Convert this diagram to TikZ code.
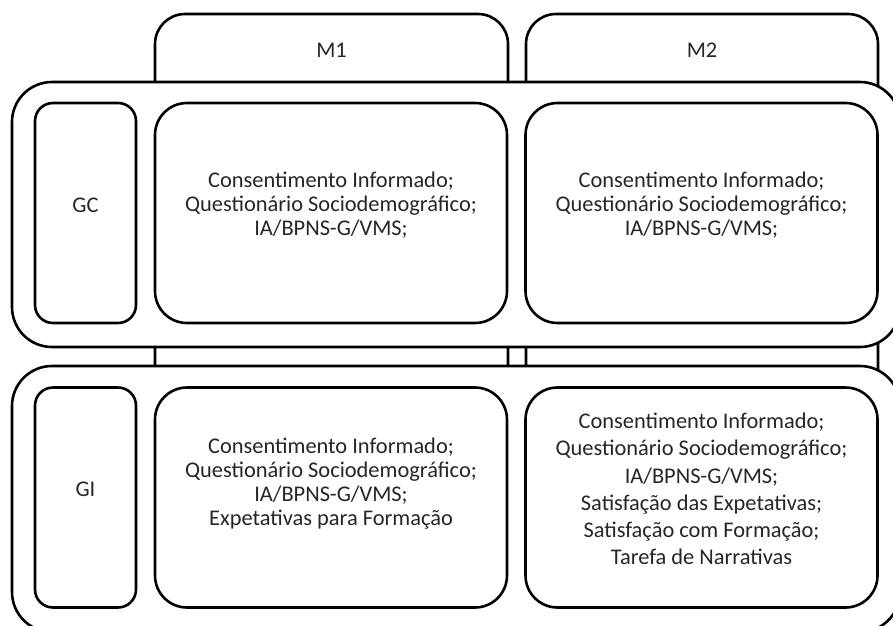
\documentclass[tikz,border=0pt]{standalone}
\usepackage{fontspec}
\setmainfont{Carlito}

\begin{document}
\begin{tikzpicture}[x=1pt,y=-1pt,line width=2.6pt,
                    every node/.style={font=\fontsize{22.4}{24}\selectfont,text=black!85},
                    colbox/.style={draw,fill=white,rounded corners=30pt,inner sep=0pt},
                    rowbox/.style={draw,fill=white,rounded corners=40pt,inner sep=0pt},
                    tagbox/.style={draw,fill=white,rounded corners=18pt,inner sep=0pt,
                                   minimum width=101pt,minimum height=220pt},
                    cellbox/.style={draw,fill=white,rounded corners=32pt,inner sep=0pt,
                                    minimum width=352pt,minimum height=220pt},
                    celltext/.style={align=center}]

  \useasboundingbox (0,0) rectangle (893,625);
  \clip (0,0) rectangle (893,625);

  \node[colbox,minimum width=353pt,minimum height=586pt] (colM1) at (331.5,307) {};
  \node[colbox,minimum width=352pt,minimum height=586pt] (colM2) at (702,307)   {};
  \node[anchor=base] (labM1) at (331.5,57.5) {M1};
  \node[anchor=base] (labM2) at (702,57.5)   {M2};

  \node[rowbox,minimum width=888pt,minimum height=265pt] (rowGC) at (456,214.5) {};
  \node[rowbox,minimum width=888pt,minimum height=266pt] (rowGI) at (456,499)   {};

  \node[tagbox] (tagGC) at (85.5,213)   {};
  \node[tagbox] (tagGI) at (85.5,497.5) {};
  \node[anchor=base] (labGC) at (85.5,212)   {GC};
  \node[anchor=base] (labGI) at (85.5,496.5) {GI};

  \node[cellbox] (cellGC1) at (331,213)     {};
  \node[cellbox] (cellGC2) at (701.5,213)   {};
  \node[cellbox] (cellGI1) at (331,497.5)   {};
  \node[cellbox] (cellGI2) at (701.5,497.5) {};

  \node[celltext] (txtGC1) at (331,205)   {Consentimento Informado;\\Questionário Sociodemográfico;\\IA/BPNS-G/VMS;};
  \node[celltext] (txtGC2) at (701.5,205) {Consentimento Informado;\\Questionário Sociodemográfico;\\IA/BPNS-G/VMS;};
  \node[celltext] (txtGI1) at (331,484)   {Consentimento Informado;\\Questionário Sociodemográfico;\\IA/BPNS-G/VMS;\\Expetativas para Formação};
  \node[celltext,font=\fontsize{22.4}{27.3}\selectfont] (txtGI2) at (701.5,489)
        {Consentimento Informado;\\Questionário Sociodemográfico;\\IA/BPNS-G/VMS;\\Satisfação das Expetativas;\\Satisfação com Formação;\\Tarefa de Narrativas};
\end{tikzpicture}
\end{document}
